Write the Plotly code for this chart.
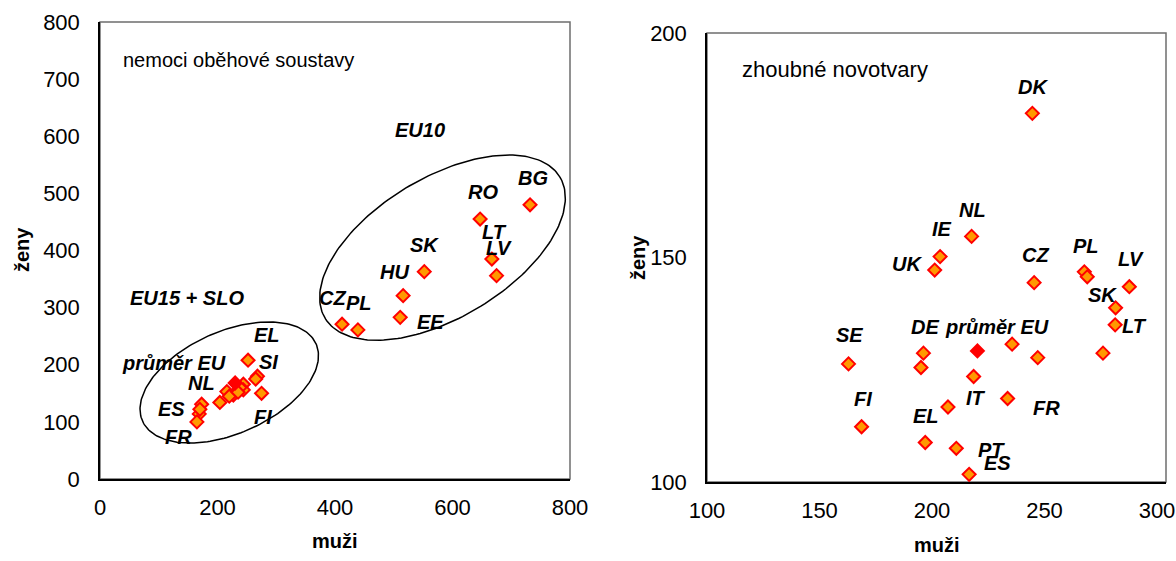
import numpy as np
import plotly.graph_objects as go

W, H = 1176, 561

# ---------------- data: nemoci oběhové soustavy (left) ----------------
left_x = [732, 647, 667, 675, 552, 516, 511, 412, 439,
          252, 268, 265, 244, 244, 216, 227, 275, 204, 173, 169, 165, 238, 220, 235, 170]
left_y = [480, 455, 385, 356, 363, 321, 283, 271, 261,
          208, 180, 175, 166, 156, 153, 147, 150, 134, 131, 114, 100, 160, 145, 152, 122]
left_avg_x = [230]
left_avg_y = [168]

left_labels = ["BG", "RO", "LT", "LV", "SK", "HU", "EE", "CZ", "PL",
               "EL", "SI", "průměr EU", "NL", "ES", "FR", "FI"]
left_label_x = [737, 652, 671, 679, 553, 502, 563, 395, 441,
                284, 287, 126, 172, 121, 133, 277]
left_label_y = [527, 503, 433, 405, 410, 363, 275, 317, 308,
                252, 205, 203, 168, 123, 74, 109]

# ---------------- data: zhoubné novotvary (right) ----------------
right_x = [244.6, 217.6, 203.6, 201.2, 245.4, 267.7, 269.0, 287.7, 281.6, 281.4, 276.0,
           162.9, 196.2, 195.1, 235.6, 247.0, 218.5, 233.6, 207.1, 168.7, 197.0, 210.8, 216.5]
right_y = [182.1, 154.7, 150.2, 147.2, 144.4, 146.8, 145.7, 143.5, 138.8, 135.0, 128.7,
           126.3, 128.7, 125.5, 130.7, 127.7, 123.5, 118.6, 116.7, 112.3, 108.8, 107.5, 101.7]
right_avg_x = [220.2]
right_avg_y = [129.2]

right_labels = ["DK", "NL", "IE", "UK", "CZ", "PL", "LV", "SK", "LT", "SE", "DE",
                "průměr EU", "FI", "EL", "IT", "FR", "PT", "ES"]
right_label_x = [245.0, 218.1, 204.3, 188.7, 246.1, 268.4, 288.4, 275.8, 289.8, 163.5, 196.9,
                 228.7, 169.5, 197.3, 219.5, 250.7, 226.6, 229.2]
right_label_y = [188.0, 160.6, 156.3, 148.6, 150.6, 152.6, 149.7, 141.6, 134.7, 132.7, 134.6,
                 134.6, 118.5, 114.8, 118.6, 116.4, 107.1, 104.2]

left_xticks = [0, 200, 400, 600, 800]
left_yticks = [0, 100, 200, 300, 400, 500, 600, 700, 800]
right_xticks = [100, 150, 200, 250, 300]
right_yticks = [100, 150, 200]

# ---------------- layout geometry (pixels) ----------------
L = dict(x0=100, x1=570, y0=22, y1=479, xr=(0, 800), yr=(0, 800))
R = dict(x0=707, x1=1166, y0=33, y1=482, xr=(100, 304), yr=(100, 200))

FONT = "Liberation Sans, Arial, sans-serif"
ORANGE = "#FF9900"
RED = "#FF0000"


def dom(p):
    return [p["x0"] / W, p["x1"] / W], [1 - p["y1"] / H, 1 - p["y0"] / H]


fig = go.Figure()

marker = dict(symbol="diamond", size=10, color=ORANGE, line=dict(color=RED, width=2))
avg_marker = dict(symbol="diamond", size=10, color=RED, line=dict(color=RED, width=2))


def ellipse(p, cx, cy, a, b, theta_deg):
    sx = (p["x1"] - p["x0"]) / (p["xr"][1] - p["xr"][0])
    sy = (p["y1"] - p["y0"]) / (p["yr"][1] - p["yr"][0])
    t = np.radians(theta_deg)
    phi = np.linspace(0, 2 * np.pi, 200)
    dx = a * np.cos(phi) * np.cos(t) - b * np.sin(phi) * np.sin(t)
    dy = a * np.cos(phi) * np.sin(t) + b * np.sin(phi) * np.cos(t)
    return cx + dx / sx, cy + dy / sy


# ellipses (left)
for (cx, cy, a, b, th) in [(583, 405, 137, 70, 31), (220, 169, 95, 51, 24)]:
    ex, ey = ellipse(L, cx, cy, a, b, th)
    fig.add_trace(go.Scatter(x=ex, y=ey, mode="lines", line=dict(color="black", width=1.5),
                             xaxis="x", yaxis="y", hoverinfo="skip", showlegend=False))

fig.add_trace(go.Scatter(x=left_x, y=left_y, mode="markers", marker=marker,
                         xaxis="x", yaxis="y", showlegend=False))
fig.add_trace(go.Scatter(x=left_avg_x, y=left_avg_y, mode="markers", marker=avg_marker,
                         xaxis="x", yaxis="y", showlegend=False))
fig.add_trace(go.Scatter(x=right_x, y=right_y, mode="markers", marker=marker,
                         xaxis="x2", yaxis="y2", showlegend=False))
fig.add_trace(go.Scatter(x=right_avg_x, y=right_avg_y, mode="markers", marker=avg_marker,
                         xaxis="x2", yaxis="y2", showlegend=False))

lxd, lyd = dom(L)
rxd, ryd = dom(R)

axis_common = dict(showgrid=False, zeroline=False, showline=True, linecolor="black", linewidth=1.5,
                   ticks="", tickfont=dict(family=FONT, size=22, color="black"),
                   automargin=False, fixedrange=True)

fig.update_layout(
    width=W, height=H, margin=dict(l=0, r=0, t=0, b=0),
    paper_bgcolor="white", plot_bgcolor="white", showlegend=False,
    xaxis=dict(domain=lxd, range=list(L["xr"]), tickvals=left_xticks, anchor="y",
               ticklabelstandoff=8, **axis_common),
    yaxis=dict(domain=lyd, range=list(L["yr"]), tickvals=left_yticks, anchor="x",
               ticklabelstandoff=14, **axis_common),
    xaxis2=dict(domain=rxd, range=list(R["xr"]), tickvals=right_xticks, anchor="y2",
                ticklabelstandoff=8, **axis_common),
    yaxis2=dict(domain=ryd, range=list(R["yr"]), tickvals=right_yticks, anchor="x2",
                ticklabelstandoff=14, **axis_common),
)

# gray frame (top / right)
for xa, ya in [("x", "y"), ("x2", "y2")]:
    fig.add_shape(type="rect", xref=f"{xa} domain", yref=f"{ya} domain", x0=0, x1=1, y0=0, y1=1,
                  line=dict(color="#6E6E6E", width=1.5), layer="below")

lab_font = dict(family=FONT, size=20, color="black")
for t, x, y in zip(left_labels, left_label_x, left_label_y):
    fig.add_annotation(x=x, y=y, xref="x", yref="y", text=f"<b><i>{t}</i></b>", showarrow=False,
                       font=lab_font, xanchor="center", yanchor="middle")
for t, x, y in zip(right_labels, right_label_x, right_label_y):
    fig.add_annotation(x=x, y=y, xref="x2", yref="y2", text=f"<b><i>{t}</i></b>", showarrow=False,
                       font=lab_font, xanchor="center", yanchor="middle")

# group labels & panel titles
fig.add_annotation(x=545, y=611, xref="x", yref="y", text="<b><i>EU10</i></b>", showarrow=False,
                   font=lab_font)
fig.add_annotation(x=148, y=317, xref="x", yref="y", text="<b><i>EU15 + SLO</i></b>", showarrow=False,
                   font=lab_font)
fig.add_annotation(x=121 / W, y=1 - 60 / H, xref="paper", yref="paper", text="nemoci oběhové soustavy",
                   showarrow=False, font=lab_font, xanchor="left", yanchor="middle")
fig.add_annotation(x=740 / W, y=1 - 70 / H, xref="paper", yref="paper", text="zhoubné novotvary",
                   showarrow=False, font=dict(family=FONT, size=22, color="black"),
                   xanchor="left", yanchor="middle")

# axis titles
title_font = dict(family=FONT, size=20, color="black")
for (px, py, txt, ang) in [(335, 541, "muži", 0), (22, 250, "ženy", -90),
                           (937, 545, "muži", 0), (638, 258, "ženy", -90)]:
    fig.add_annotation(x=px / W, y=1 - py / H, xref="paper", yref="paper", text=f"<b>{txt}</b>",
                       showarrow=False, font=title_font, textangle=ang,
                       xanchor="center", yanchor="middle")

fig.write_html("out.html")
